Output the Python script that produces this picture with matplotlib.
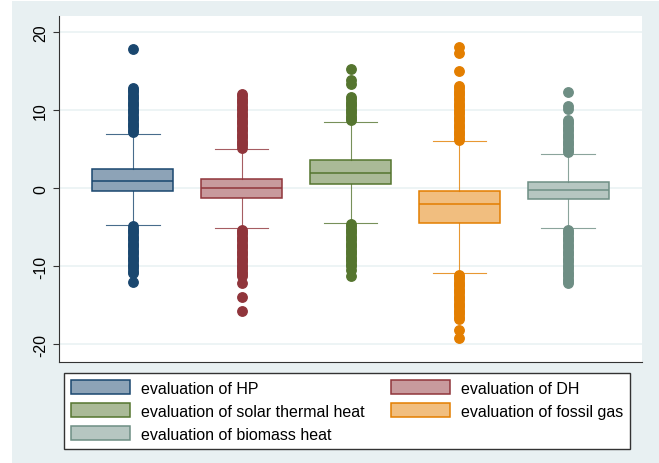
import matplotlib
matplotlib.use("Agg")
import matplotlib.pyplot as plt
from matplotlib.patches import Patch, Rectangle

plt.rcParams['font.family'] = ['Liberation Sans', 'DejaVu Sans']

labels = ["evaluation of HP", "evaluation of DH", "evaluation of solar thermal heat",
          "evaluation of fossil gas", "evaluation of biomass heat"]
edge_cols = ["#1A476F", "#90353B", "#55752F", "#E37E00", "#6E8E84"]
fill_cols = ["#8DA3B7", "#C89A9D", "#AABA97", "#F1BE7F", "#B6C6C1"]

# box stats
q1 = [-0.3, -1.3, 0.5, -4.5, -1.4]
med = [0.9, 0.0, 1.9, -2.0, -0.25]
q3 = [2.5, 1.15, 3.6, -0.3, 0.8]
wlo = [-4.7, -5.1, -4.4, -10.9, -5.1]
whi = [7.0, 5.0, 8.5, 6.0, 4.4]

out_hp = [7.2, 7.5, 7.8, 8.1, 8.4, 8.7, 9.0, 9.3, 9.6, 9.9, 10.2, 10.5, 10.8, 11.1, 11.4,
          11.7, 12.0, 12.3, 12.6, 12.9, 17.9,
          -4.9, -5.2, -5.5, -5.8, -6.1, -6.4, -6.7, -7.0, -7.3, -7.6, -7.9, -8.2, -8.5,
          -8.8, -9.1, -9.4, -9.7, -10.0, -10.3, -10.6, -10.9, -12.0]
out_dh = [5.2, 5.5, 5.8, 6.1, 6.4, 6.7, 7.0, 7.3, 7.6, 7.9, 8.2, 8.5, 8.8, 9.1, 9.4, 9.7,
          10.0, 10.3, 10.6, 10.9, 11.2, 11.5, 11.8, 12.1,
          -5.3, -5.6, -5.9, -6.2, -6.5, -6.8, -7.1, -7.4, -7.7, -8.0, -8.3, -8.6, -8.9,
          -9.2, -9.5, -9.8, -10.1, -10.4, -10.7, -11.0, -11.2, -12.2, -14.0, -15.8]
out_solar = [8.7, 9.0, 9.3, 9.6, 9.9, 10.2, 10.5, 10.8, 11.1, 11.4, 11.7, 13.4, 13.9, 15.3,
             -4.6, -4.9, -5.2, -5.5, -5.8, -6.1, -6.4, -6.7, -7.0, -7.3, -7.6, -7.9,
             -8.2, -8.5, -8.8, -9.1, -9.4, -9.7, -10.0, -10.5, -11.2]
out_gas = [6.2, 6.5, 6.8, 7.1, 7.4, 7.7, 8.0, 8.3, 8.6, 8.9, 9.2, 9.5, 9.8, 10.1, 10.4,
           10.7, 11.0, 11.3, 11.6, 11.9, 12.2, 12.5, 12.8, 13.1, 15.1, 17.3, 18.1,
           -11.1, -11.4, -11.7, -12.0, -12.3, -12.6, -12.9, -13.2, -13.5, -13.8, -14.1,
           -14.4, -14.7, -15.0, -15.3, -15.6, -15.9, -16.2, -16.5, -16.8, -18.2, -19.2]
out_bio = [4.6, 4.9, 5.2, 5.5, 5.8, 6.1, 6.4, 6.7, 7.0, 7.3, 7.6, 7.9, 8.2, 8.5, 8.7,
           10.2, 10.6, 12.3,
           -5.3, -5.6, -5.9, -6.2, -6.5, -6.8, -7.1, -7.4, -7.7, -8.0, -8.3, -8.6, -8.9,
           -9.2, -9.5, -9.8, -10.1, -10.4, -10.7, -11.0, -11.3, -11.6, -11.9, -12.2]
outliers = [out_hp, out_dh, out_solar, out_gas, out_bio]

fig = plt.figure(figsize=(6.59, 4.64), dpi=100, facecolor="white")
fig.patches.append(Rectangle((12 / 659, 0), 1, 1 - 2 / 464, transform=fig.transFigure,
                             facecolor="#E8F0F2", edgecolor="none", zorder=-1))
ax = fig.add_axes([59 / 659, 1 - 363 / 464, 583 / 659, 346 / 464])
ax.set_facecolor("white")

for i in range(5):
    st = [dict(med=med[i], q1=q1[i], q3=q3[i], whislo=wlo[i], whishi=whi[i],
               fliers=outliers[i])]
    c = edge_cols[i]
    ax.bxp(st, positions=[i + 1], widths=0.745, patch_artist=True, showfliers=True,
           boxprops=dict(facecolor=fill_cols[i], edgecolor=c, linewidth=1.1),
           medianprops=dict(color=c, linewidth=1.1),
           whiskerprops=dict(color=c, linewidth=0.8, alpha=0.8),
           capprops=dict(color=c, linewidth=0.8, alpha=0.8),
           capwidths=0.49,
           flierprops=dict(marker="o", markersize=6.8, markerfacecolor=c,
                           markeredgecolor=c, linestyle="none"))

ax.set_xlim(0.32, 5.68)
ax.set_ylim(-22.3, 22.1)
ax.set_yticks([-20, -10, 0, 10, 20])
ax.set_yticklabels(["-20", "-10", "0", "10", "20"], rotation=90, va="center", fontsize=11.5)
ax.set_xticks([])
ax.yaxis.grid(True, color="#EAF2F3", linewidth=1.2)
ax.set_axisbelow(True)
for s in ["top", "right"]:
    ax.spines[s].set_visible(False)
ax.spines["left"].set_color("#333333")
ax.spines["bottom"].set_color("#333333")
ax.tick_params(axis="y", length=4, color="#333333", pad=4)

order = [0, 2, 4, 1, 3]
handles = [Patch(facecolor=fill_cols[k], edgecolor=edge_cols[k], linewidth=1.1,
                 label=labels[k]) for k in order]
fig.legend(handles=handles, ncol=2, loc="upper left",
           bbox_to_anchor=(64 / 659, 1 - 374 / 464),
           fontsize=11.5, handlelength=3.7, handleheight=0.95, handletextpad=0.7,
           labelspacing=0.48, borderpad=0.45, columnspacing=1.6, borderaxespad=0,
           fancybox=False, framealpha=1, edgecolor="#333333", facecolor="white")

fig.savefig("out.png", dpi=100, facecolor=fig.get_facecolor())
